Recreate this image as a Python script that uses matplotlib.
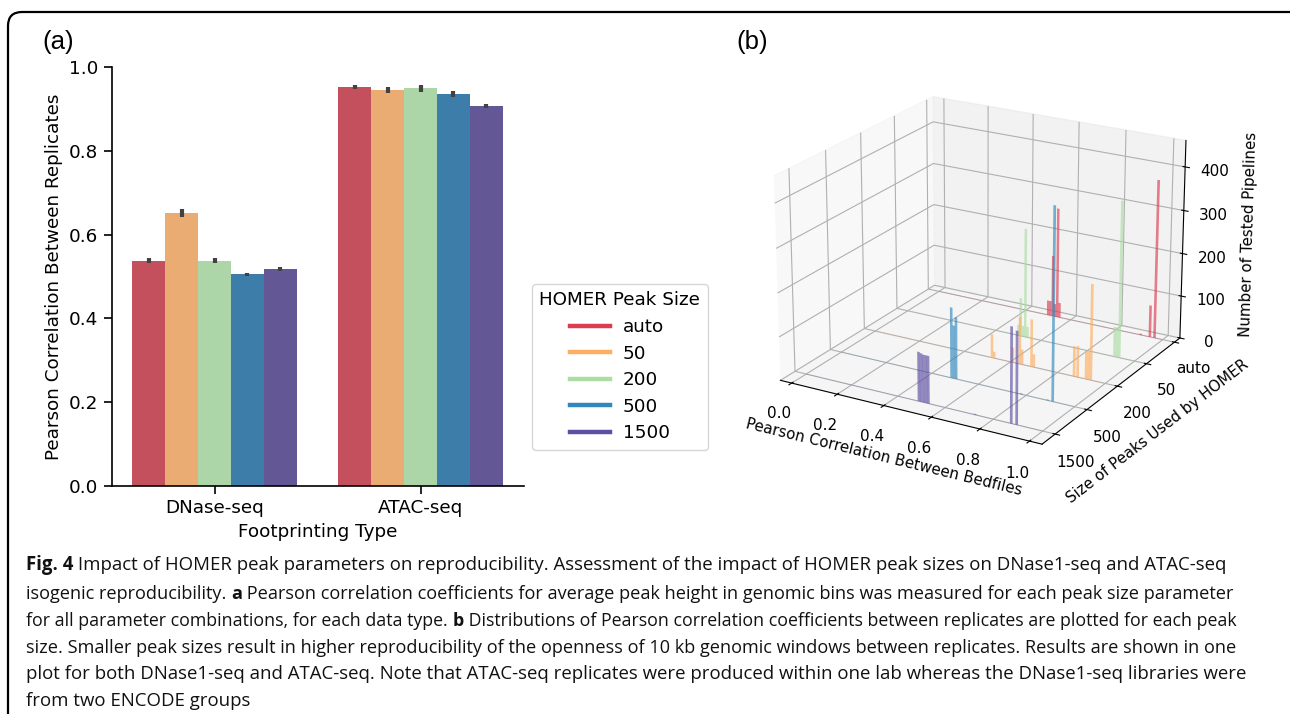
import numpy as np
from matplotlib import pyplot as plt
from matplotlib.lines import Line2D
from matplotlib.patches import FancyBboxPatch

W, H = 1290, 714

# Panel (a) values
footprint_types = ["DNase-seq", "ATAC-seq"]
peak_sizes = ["auto", "50", "200", "500", "1500"]
dnase_means = [0.538, 0.651, 0.538, 0.505, 0.518]
dnase_errs = [0.005, 0.010, 0.005, 0.004, 0.005]
atac_means = [0.953, 0.946, 0.949, 0.935, 0.906]
atac_errs = [0.005, 0.007, 0.008, 0.007, 0.005]

bar_colors = ["#c4505e", "#ebac73", "#acd6a8", "#3c7daa", "#645796"]
line_colors = ["#dc3c50", "#fdae61", "#abdda4", "#3288bd", "#5e4fa2"]

# Panel (b) values: histogram bins with a count, per peak size
auto_bins = [0.50, 0.51, 0.52, 0.53, 0.54, 0.55, 0.906, 0.945, 0.965]
auto_counts = [35, 35, 145, 30, 260, 35, 3, 75, 370]
b50_bins = [0.52, 0.53, 0.61, 0.64, 0.65, 0.69, 0.70, 0.87, 0.885, 0.92, 0.93, 0.94]
b50_counts = [55, 15, 35, 110, 35, 110, 30, 70, 72, 65, 65, 220]
b200_bins = [0.50, 0.51, 0.52, 0.53, 0.54, 0.915, 0.925, 0.935]
b200_counts = [25, 90, 25, 255, 25, 70, 70, 362]
b500_bins = [0.485, 0.495, 0.505, 0.78, 0.89, 0.91]
b500_counts = [162, 122, 142, 2, 2, 435]
b1500_bins = [0.49, 0.50, 0.51, 0.52, 0.53, 0.725, 0.873, 0.895]
b1500_counts = [112, 110, 108, 108, 108, 2, 215, 208]
# front row to back row, the 50 and 200 rows are in this order in the figure
hist_bins = [b1500_bins, b500_bins, b50_bins, b200_bins, auto_bins]
hist_counts = [b1500_counts, b500_counts, b50_counts, b200_counts, auto_counts]
hist_colors = ["#5e4fa2", "#3288bd", "#fdae61", "#abdda4", "#dc3c50"]

caption = [
    [("Fig. 4", True), (" Impact of HOMER peak parameters on reproducibility. Assessment of the impact of HOMER peak sizes on DNase1-seq and ATAC-seq", False)],
    [("isogenic reproducibility. ", False), ("a", True), (" Pearson correlation coefficients for average peak height in genomic bins was measured for each peak size parameter", False)],
    [("for all parameter combinations, for each data type. ", False), ("b", True), (" Distributions of Pearson correlation coefficients between replicates are plotted for each peak", False)],
    [("size. Smaller peak sizes result in higher reproducibility of the openness of 10 kb genomic windows between replicates. Results are shown in one", False)],
    [("plot for both DNase1-seq and ATAC-seq. Note that ATAC-seq replicates were produced within one lab whereas the DNase1-seq libraries were", False)],
    [("from two ENCODE groups", False)],
]
caption_y = [565, 594, 621, 648, 674, 701]
caption_size = [13.4, 13.05, 12.8, 13.1, 13.4, 13.4]

plt.rcParams['font.family'] = ['DejaVu Sans']
fig = plt.figure(figsize=(W/100, H/100), dpi=100)


def rect(x0, y0, x1, y1):
    return [x0/W, 1 - y1/H, (x1 - x0)/W, (y1 - y0)/H]


# Background frame, panel letters and caption
bg = fig.add_axes([0, 0, 1, 1], zorder=-1)
bg.set_xlim(0, W)
bg.set_ylim(H, 0)
bg.axis("off")
bg.add_patch(FancyBboxPatch((8, 12), 1400, 900, boxstyle="round,pad=0,rounding_size=14",
                            fc="white", ec="black", lw=1.6))
bg.text(42, 42, "(a)", family="Liberation Sans", fontsize=18.5, va="center")
bg.text(736, 42, "(b)", family="Liberation Sans", fontsize=18.5, va="center")

fig.canvas.draw()
rend = fig.canvas.get_renderer()
for runs, y, fs in zip(caption, caption_y, caption_size):
    x = 26
    for s, bold in runs:
        t = bg.text(x, y, s, family="Open Sans", fontsize=fs, va="center",
                    fontweight="bold" if bold else "normal", color="#111111")
        x += t.get_window_extent(rend).width

# Panel (a)
ax0 = fig.add_axes(rect(111.5, 67, 523.5, 486))
n = len(peak_sizes)
bw = 0.8/n
for i in range(n):
    off = -0.4 + bw*(i + 0.5)
    xs = np.array([0, 1]) + off
    vals = [dnase_means[i], atac_means[i]]
    errs = [dnase_errs[i], atac_errs[i]]
    ax0.bar(xs, vals, bw, color=bar_colors[i])
    ax0.errorbar(xs, vals, yerr=errs, fmt="none", ecolor="#424242", elinewidth=3)
ax0.set_xlim(-0.5, 1.5)
ax0.set_ylim(0, 1)
ax0.set_xticks([0, 1])
ax0.set_xticklabels(footprint_types)
ax0.set_yticks([0, 0.2, 0.4, 0.6, 0.8, 1.0])
ax0.tick_params(labelsize=13.2, width=1.2, length=6)
ax0.set_xlabel("Footprinting Type", fontsize=13.2)
ax0.set_ylabel("Pearson Correlation Between Replicates", fontsize=13.2)
ax0.spines["top"].set_visible(False)
ax0.spines["right"].set_visible(False)
ax0.spines["left"].set_linewidth(1.2)
ax0.spines["bottom"].set_linewidth(1.2)

handles = [Line2D([], [], color=c, lw=3.2) for c in line_colors]
leg = fig.legend(handles, peak_sizes, title="HOMER Peak Size", fontsize=13.2, title_fontsize=13.2,
                 loc="upper left", bbox_to_anchor=(532/W, 1 - 284/H), borderaxespad=0,
                 handlelength=2.2, labelspacing=0.47, handletextpad=0.72, frameon=True)

# Panel (b)
ax1 = fig.add_axes(rect(749, 37, 1207, 495), projection="3d")
ax1.patch.set_visible(False)
for row in range(n):
    color = hist_colors[row]
    ax1.plot([0, 1], [row, row], [0, 0], color=color, lw=0.5, alpha=0.22)
    ax1.bar(hist_bins[row], hist_counts[row], zs=row, zdir="y", width=0.011, color=color, alpha=0.65)
ax1.set_xlim(-0.05, 1.05)
ax1.set_ylim(-0.4, 4.2)
ax1.set_zlim(0, 460)
ax1.set_xticks([0, 0.2, 0.4, 0.6, 0.8, 1.0])
ax1.set_yticks(range(n))
ax1.set_yticklabels(peak_sizes[::-1])
ax1.set_zticks([0, 100, 200, 300, 400])
ax1.tick_params(labelsize=11, pad=5)
ax1.set_xlabel("Pearson Correlation Between Bedfiles", fontsize=10.8, labelpad=4)
ax1.set_ylabel("Size of Peaks Used by HOMER", fontsize=10.8, labelpad=7)
ax1.set_zlabel("Number of Tested Pipelines", fontsize=10.8, labelpad=8)
ax1.set_box_aspect((4, 4, 2.9))
ax1.view_init(elev=21, azim=-60)

fig.savefig("out.png", dpi=100)
